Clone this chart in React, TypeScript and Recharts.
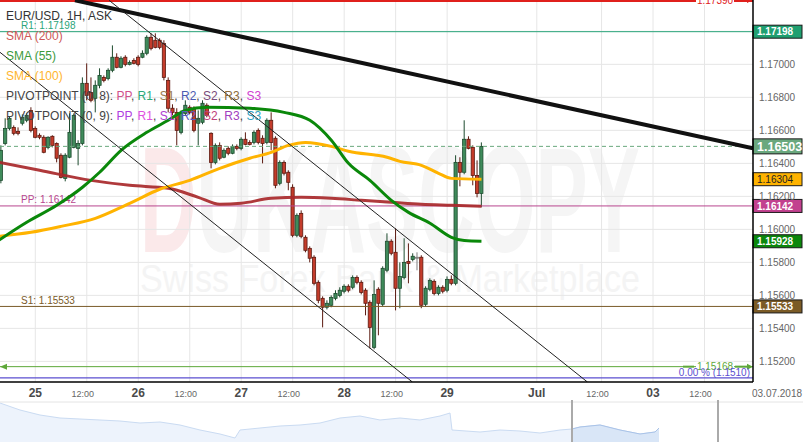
import React from 'react';
import {
  ComposedChart, Bar, Line, XAxis, YAxis, CartesianGrid, ReferenceLine, AreaChart, Area,
} from 'recharts';

const FONT = "Arial, 'Liberation Sans', sans-serif";

// ---- hourly candles (EUR/USD 1H) ----
const candleOpen = [
  1.16297, 1.16521, 1.16612, 1.16618, 1.16594, 1.16643, 1.16661, 1.16721, 1.16612, 1.16570,
  1.16558, 1.16497, 1.16564, 1.16521, 1.16449, 1.16309, 1.16437, 1.16497, 1.16491, 1.16521,
  1.16885, 1.16830, 1.16794, 1.16873, 1.16921, 1.16915, 1.16964, 1.17043, 1.16982, 1.17043,
  1.17000, 1.17024, 1.17043, 1.17043, 1.17067, 1.17164, 1.17146, 1.17146, 1.17127, 1.16903,
  1.16734, 1.16709, 1.16588, 1.16703, 1.16740, 1.16734, 1.16643, 1.16649, 1.16752, 1.16582,
  1.16406, 1.16509, 1.16437, 1.16491, 1.16461, 1.16503, 1.16491, 1.16546, 1.16527, 1.16527,
  1.16600, 1.16552, 1.16527, 1.16661, 1.16552, 1.16279, 1.16406, 1.16346, 1.16255, 1.15964,
  1.16097, 1.15952, 1.15885, 1.15831, 1.15679, 1.15582, 1.15528, 1.15540, 1.15582, 1.15600,
  1.15625, 1.15655, 1.15649, 1.15709, 1.15679, 1.15631, 1.15558, 1.15285, 1.15637, 1.15546,
  1.15752, 1.15928, 1.15861, 1.15643, 1.15709, 1.15806, 1.15818, 1.15831, 1.15831, 1.15546,
  1.15637, 1.15685, 1.15612, 1.15649, 1.15631, 1.15697, 1.15673, 1.16406, 1.16346, 1.16546,
  1.16497, 1.16327, 1.16218,
];
const candleHigh = [
  1.16509, 1.16673, 1.16685, 1.16630, 1.16618, 1.16697, 1.16703, 1.16740, 1.16624, 1.16582,
  1.16570, 1.16564, 1.16570, 1.16527, 1.16461, 1.16461, 1.16703, 1.16703, 1.16540, 1.16921,
  1.17006, 1.16921, 1.16903, 1.16976, 1.16933, 1.16976, 1.17115, 1.17067, 1.17049, 1.17055,
  1.17024, 1.17037, 1.17055, 1.17085, 1.17176, 1.17188, 1.17188, 1.17158, 1.17146, 1.16921,
  1.16758, 1.16734, 1.16721, 1.16782, 1.16752, 1.16746, 1.16721, 1.16782, 1.16764, 1.16588,
  1.16521, 1.16527, 1.16491, 1.16503, 1.16515, 1.16515, 1.16558, 1.16588, 1.16540, 1.16600,
  1.16612, 1.16570, 1.16673, 1.16709, 1.16564, 1.16418, 1.16418, 1.16358, 1.16273, 1.16097,
  1.16115, 1.15964, 1.15897, 1.15843, 1.15691, 1.15594, 1.15570, 1.15600, 1.15631, 1.15649,
  1.15667, 1.15667, 1.15721, 1.15721, 1.15691, 1.15643, 1.15570, 1.15691, 1.15649, 1.15776,
  1.15976, 1.15940, 1.16006, 1.15800, 1.15946, 1.15915, 1.15855, 1.15861, 1.15843, 1.15655,
  1.15703, 1.15697, 1.15661, 1.15661, 1.15715, 1.15721, 1.16449, 1.16437, 1.16661, 1.16564,
  1.16509, 1.16418, 1.16527,
];
const candleLow = [
  1.16279, 1.16509, 1.16600, 1.16570, 1.16570, 1.16630, 1.16649, 1.16588, 1.16552, 1.16546,
  1.16461, 1.16485, 1.16497, 1.16406, 1.16309, 1.16291, 1.16431, 1.16491, 1.16388, 1.16509,
  1.16782, 1.16770, 1.16709, 1.16855, 1.16891, 1.16903, 1.16952, 1.16976, 1.16976, 1.16988,
  1.16994, 1.17000, 1.16988, 1.17037, 1.17055, 1.17085, 1.17097, 1.17091, 1.16903, 1.16709,
  1.16691, 1.16509, 1.16576, 1.16691, 1.16697, 1.16588, 1.16509, 1.16637, 1.16679, 1.16370,
  1.16394, 1.16418, 1.16431, 1.16449, 1.16455, 1.16479, 1.16479, 1.16509, 1.16509, 1.16515,
  1.16515, 1.16400, 1.16515, 1.16479, 1.16249, 1.16267, 1.16327, 1.16237, 1.15952, 1.15952,
  1.15946, 1.15861, 1.15800, 1.15661, 1.15552, 1.15406, 1.15515, 1.15528, 1.15570, 1.15588,
  1.15612, 1.15618, 1.15637, 1.15667, 1.15606, 1.15479, 1.15279, 1.15273, 1.15358, 1.15534,
  1.15740, 1.15843, 1.15509, 1.15522, 1.15697, 1.15673, 1.15806, 1.15752, 1.15522, 1.15534,
  1.15625, 1.15600, 1.15600, 1.15612, 1.15618, 1.15661, 1.15661, 1.16261, 1.16334, 1.16485,
  1.16267, 1.16194, 1.16134,
];
const candleClose = [
  1.16479, 1.16612, 1.16673, 1.16582, 1.16582, 1.16679, 1.16691, 1.16600, 1.16558, 1.16558,
  1.16467, 1.16558, 1.16509, 1.16431, 1.16315, 1.16449, 1.16588, 1.16691, 1.16521, 1.16885,
  1.16812, 1.16782, 1.16873, 1.16933, 1.16903, 1.16964, 1.17043, 1.16982, 1.17037, 1.17000,
  1.17012, 1.17006, 1.17000, 1.17067, 1.17164, 1.17097, 1.17103, 1.17103, 1.16921, 1.16734,
  1.16709, 1.16600, 1.16703, 1.16752, 1.16709, 1.16600, 1.16673, 1.16764, 1.16691, 1.16406,
  1.16509, 1.16431, 1.16479, 1.16461, 1.16503, 1.16491, 1.16546, 1.16515, 1.16515, 1.16588,
  1.16527, 1.16521, 1.16661, 1.16527, 1.16267, 1.16406, 1.16340, 1.16285, 1.15964, 1.16085,
  1.15958, 1.15873, 1.15825, 1.15673, 1.15570, 1.15528, 1.15552, 1.15588, 1.15612, 1.15631,
  1.15655, 1.15631, 1.15709, 1.15679, 1.15618, 1.15552, 1.15406, 1.15606, 1.15552, 1.15764,
  1.15928, 1.15855, 1.15643, 1.15715, 1.15800, 1.15794, 1.15837, 1.15831, 1.15540, 1.15643,
  1.15691, 1.15612, 1.15649, 1.15625, 1.15697, 1.15673, 1.16406, 1.16346, 1.16546, 1.16491,
  1.16327, 1.16218, 1.16503,
];

// ---- moving averages (sampled along the hour index) ----
const sma200X = [-0.5, 9, 21, 30, 39, 46, 51, 56, 63, 70, 77, 84, 91, 98, 105, 112];
const sma200V = [1.16406, 1.16358, 1.16297, 1.16267, 1.16249, 1.16194, 1.16152, 1.16158, 1.16188, 1.16194, 1.16188, 1.16176, 1.16164, 1.16152, 1.16146, 1.16140];
const sma55X = [-0.5, 6, 13, 19, 23, 28, 34, 39, 43, 48, 58, 66, 72, 77, 81, 86, 91, 95, 100, 105, 108, 112];
const sma55V = [1.15934, 1.16043, 1.16146, 1.16255, 1.16346, 1.16479, 1.16588, 1.16661, 1.16721, 1.16740, 1.16734, 1.16709, 1.16661, 1.16540, 1.16400, 1.16297, 1.16176, 1.16103, 1.16037, 1.15952, 1.15932, 1.15928];
const sma100X = [-0.5, 7, 14, 22, 30, 37, 44, 51, 58, 63, 67, 71, 77, 81, 90, 93, 98, 102, 105, 112];
const sma100V = [1.15958, 1.15982, 1.16018, 1.16067, 1.16158, 1.16243, 1.16297, 1.16370, 1.16431, 1.16467, 1.16509, 1.16527, 1.16503, 1.16473, 1.16437, 1.16412, 1.16388, 1.16340, 1.16309, 1.16304];

// ---- levels ----
const levelR1 = 1.17198;
const levelPP = 1.16142;
const levelS1 = 1.15533;
const levelTop = 1.1739;
const levelGreen = 1.15168;
const levelFib0 = 1.1510;
const lastPrice = 1.16503;

// ---- trend lines [x1, y1, x2, y2] in hour index / price ----
const trendMain = [17.25, 1.17388, 175.3, 1.16491];
const channelUpper = [25.2, 1.17388, 136.7, 1.15075];
const channelLower = [-0.23, 1.17073, 95.9, 1.15075];

// ---- axes ----
const xTickValues = [8, 20, 32, 44, 56, 68, 80, 92, 104, 124.9, 140, 152, 164, 175.3];
const xTickLabels = ['25', '12:00', '26', '12:00', '27', '12:00', '28', '12:00', '29', 'Jul', '12:00', '03', '12:00', '03.07.2018'];
const yTicks = [1.152, 1.154, 1.156, 1.158, 1.16, 1.162, 1.164, 1.166, 1.168, 1.17];
const yGrid = [1.152, 1.154, 1.156, 1.158, 1.16, 1.162, 1.164, 1.166, 1.168, 1.17, 1.172];

// ---- navigator ----
const navT = [0, 1, 2, 3, 4, 5, 6, 7, 8, 9, 10, 11, 11.75, 12, 13, 14, 15, 16, 17, 18, 19, 20, 21, 22, 22.5, 22.6, 24, 25, 26, 27, 28, 28.6, 29, 30, 31, 32, 32.75, 32.95];
const navV = [39, 32, 27, 24, 23, 22, 21, 19, 20, 17, 12, 8, 4, 12, 14, 16, 17, 19, 24, 26, 22, 24, 22, 26, 29, 12, 10, 12, 11, 9, 12, 13, 15, 17, 12, 8, 10, 14];
const navSelStart = 28.6;
const navSelEnd = 35.9;

const candles = candleOpen.map((open, i) => ({
  i,
  open,
  high: candleHigh[i],
  low: candleLow[i],
  close: candleClose[i],
  range: [candleLow[i], candleHigh[i]],
}));
const sma200Data = sma200X.map((i, k) => ({ i, v: sma200V[k] }));
const sma55Data = sma55X.map((i, k) => ({ i, v: sma55V[k] }));
const sma100Data = sma100X.map((i, k) => ({ i, v: sma100V[k] }));
const navData = navT.map((t, k) => ({ t, v: navV[k], sel: t >= navSelStart ? navV[k] : null }));

const Candle = (props: any) => {
  const { x, y, width, height, payload } = props;
  if (!payload || x == null) return null;
  const { open, close, high, low } = payload;
  const top = Math.min(y, y + height);
  const h = Math.abs(height);
  const k = high - low > 0 ? h / (high - low) : 0;
  const yO = top + (high - open) * k;
  const yC = top + (high - close) * k;
  const cx = x + width / 2;
  const flat = close === open;
  const up = close > open;
  const body = flat ? '#9a9a9a' : up ? '#3f8b5b' : '#c43c2b';
  const edge = flat ? '#808080' : up ? '#1d4b2e' : '#5c1a10';
  const bw = 3.2;
  const bt = Math.min(yO, yC);
  const bh = Math.max(Math.abs(yC - yO), 1);
  return (
    <g>
      <line x1={cx} x2={cx} y1={top} y2={top + h} stroke={edge} strokeWidth={1} />
      <rect x={cx - bw / 2} y={bt} width={bw} height={bh} fill={body} stroke={edge} strokeWidth={0.8} />
    </g>
  );
};

const Tag = ({ right, y, value, fill, color, big, bold }: any) => {
  const h = big ? 15 : 13;
  return (
    <g>
      <rect x={right} y={y - h / 2} width={49} height={h} fill={fill} stroke="#1a1a1a" strokeWidth={1} />
      <text x={right + 4} y={y + (big ? 4.5 : 3.6)} fill={color} fontSize={big ? 12.5 : 10} fontWeight={bold ? 'bold' : 'normal'} fontFamily={FONT}>
        {value}
      </text>
    </g>
  );
};

const LevelLabel = (props: any) => {
  const { viewBox, text, color, value, tagFill, tagColor, big, bold } = props;
  if (!viewBox) return null;
  const y = viewBox.y;
  const right = viewBox.x + viewBox.width;
  return (
    <g>
      {text ? (
        <text x={viewBox.x + 21} y={y - 2.5} fill={color} fontSize={10} fontFamily={FONT}>{text}</text>
      ) : null}
      {value ? <Tag right={right} y={y} value={value} fill={tagFill} color={tagColor} big={big} bold={bold} /> : null}
    </g>
  );
};

const ArrowLabel = (props: any) => {
  const { viewBox, text, color, leftArrow } = props;
  if (!viewBox) return null;
  const y = viewBox.y;
  const right = viewBox.x + viewBox.width;
  const cx = right - 38;
  return (
    <g>
      <rect x={cx - 19} y={y - 5} width={38} height={10} fill="#fff" />
      <line x1={cx - 32} x2={cx - 21} y1={y} y2={y} stroke={color} strokeWidth={2} />
      <line x1={cx + 20} x2={right - 5} y1={y} y2={y} stroke={color} strokeWidth={2} />
      <polygon points={`${right - 6},${y - 3} ${right},${y} ${right - 6},${y + 3}`} fill={color} />
      {leftArrow ? <polygon points={`${viewBox.x},${y} ${viewBox.x + 7},${y - 3} ${viewBox.x + 7},${y + 3}`} fill={color} /> : null}
      <text x={cx} y={y + 3.5} textAnchor="middle" fill={color} fontSize={10} fontFamily={FONT}>{text}</text>
    </g>
  );
};

const FibLabel = (props: any) => {
  const { viewBox, text, color } = props;
  if (!viewBox) return null;
  const right = viewBox.x + viewBox.width;
  return (
    <text x={right - 3} y={viewBox.y - 2} textAnchor="end" fill={color} fontSize={10} fontFamily={FONT}>{text}</text>
  );
};

const XTick = (props: any) => {
  const { x, y, payload } = props;
  const k = xTickValues.indexOf(payload.value);
  const label = k >= 0 ? xTickLabels[k] : '';
  const isTime = label === '12:00';
  const isEnd = label.length > 5;
  return (
    <text
      x={isTime ? x - 4 : isEnd ? x - 1 : x}
      y={y + 15}
      textAnchor={isEnd ? 'start' : 'middle'}
      fontSize={isTime ? 9 : isEnd ? 10 : 12}
      fontWeight={isTime || isEnd ? 'normal' : 'bold'}
      fill={isTime || isEnd ? '#666' : '#4a4a4a'}
      fontFamily={FONT}
    >
      {label}
    </text>
  );
};

export default function App() {
  const fmt = (v: number) => v.toFixed(5);
  return (
    <div style={{ position: 'absolute', left: 0, top: 0, width: 803, height: 442, background: '#fff', overflow: 'hidden', fontFamily: FONT }}>
      {/* watermark */}
      <svg width={803} height={442} style={{ position: 'absolute', left: 0, top: 0 }}>
        <text x={140} y={252} fontSize={150} fontWeight="bold" fontFamily={FONT} textLength={500} lengthAdjust="spacingAndGlyphs" fill="#f5f5f5">
          <tspan fill="#fbe9ea">D</tspan>UKASCOPY
        </text>
        <text x={140} y={292} fontSize={38} fontFamily={FONT} textLength={500} lengthAdjust="spacingAndGlyphs" fill="#f4f4f4">
          Swiss Forex Bank &amp; Marketplace
        </text>
      </svg>

      <div style={{ position: 'absolute', left: 0, top: 0 }}>
        <ComposedChart width={803} height={400} data={candles} margin={{ top: 0, right: 0, bottom: 0, left: 0 }}>
          <CartesianGrid stroke="#e6e6e6" horizontalValues={yGrid} verticalValues={xTickValues.slice(0, -1)} />
          <XAxis
            type="number"
            dataKey="i"
            domain={[-0.23, 175.3]}
            allowDataOverflow
            ticks={xTickValues}
            interval={0}
            tick={<XTick />}
            tickLine={false}
            tickSize={0}
            tickMargin={0}
            height={18}
            axisLine={{ stroke: '#000', strokeWidth: 1.5 }}
          />
          <YAxis
            orientation="right"
            type="number"
            domain={[1.15075, 1.1739]}
            allowDataOverflow
            ticks={yTicks}
            interval={0}
            tickFormatter={fmt}
            tick={{ fill: '#666', fontSize: 10, fontFamily: FONT }}
            tickLine={false}
            tickSize={4}
            tickMargin={2}
            width={50}
            axisLine={{ stroke: '#000', strokeWidth: 1.5 }}
          />
          <Bar dataKey="range" barSize={4} isAnimationActive={false} shape={(p: any) => <Candle {...p} />} />

          <ReferenceLine y={levelTop} stroke="#e0201c" strokeWidth={4} ifOverflow="visible"
            label={<ArrowLabel text="1.17390" color="#e0201c" />} />
          <ReferenceLine y={levelR1} stroke="#2aa57a" strokeWidth={1}
            label={<LevelLabel text={`R1: ${levelR1}`} color="#2aa57a" value={fmt(levelR1)} tagFill="#1f9f70" tagColor="#fff" bold />} />
          <ReferenceLine y={levelPP} stroke="#b8468f" strokeWidth={1}
            label={<LevelLabel text={`PP: ${levelPP}`} color="#b8468f" value={fmt(levelPP)} tagFill="#c2418f" tagColor="#fff" bold />} />
          <ReferenceLine y={levelS1} stroke="#7a5a28" strokeWidth={1}
            label={<LevelLabel text={`S1: ${levelS1}`} color="#7a5a28" value={fmt(levelS1)} tagFill="#7b5b26" tagColor="#fff" bold />} />
          <ReferenceLine y={levelGreen} stroke="#5ea83a" strokeWidth={1}
            label={<ArrowLabel text={fmt(levelGreen)} color="#5ea83a" leftArrow />} />
          <ReferenceLine y={levelFib0} stroke="#5b4fd0" strokeWidth={1.2}
            label={<FibLabel text={`0.00 % (${levelFib0.toFixed(4)})`} color="#5b4fd0" />} />
          <ReferenceLine y={lastPrice} stroke="#6aa87e" strokeDasharray="4 3" strokeWidth={1}
            label={<LevelLabel value={fmt(lastPrice)} tagFill="#6aa87e" tagColor="#fff" big bold />} />

          <Line data={sma200Data} dataKey="v" type="monotone" stroke="#a8282a" strokeWidth={3} strokeOpacity={0.92} dot={false} activeDot={false} isAnimationActive={false} />
          <Line data={sma100Data} dataKey="v" type="monotone" stroke="#ffb300" strokeWidth={3} dot={false} activeDot={false} isAnimationActive={false} />
          <Line data={sma55Data} dataKey="v" type="monotone" stroke="#0a880a" strokeWidth={3} dot={false} activeDot={false} isAnimationActive={false} />

          <ReferenceLine segment={[{ x: trendMain[0], y: trendMain[1] }, { x: trendMain[2], y: trendMain[3] }]} stroke="#111" strokeWidth={4} ifOverflow="hidden" />
          <ReferenceLine segment={[{ x: channelUpper[0], y: channelUpper[1] }, { x: channelUpper[2], y: channelUpper[3] }]} stroke="#222" strokeWidth={1} ifOverflow="hidden" />
          <ReferenceLine segment={[{ x: channelLower[0], y: channelLower[1] }, { x: channelLower[2], y: channelLower[3] }]} stroke="#222" strokeWidth={1} ifOverflow="hidden" />

          <ReferenceLine y={sma100V[sma100V.length - 1]} stroke="none"
            label={<LevelLabel value={fmt(sma100V[sma100V.length - 1])} tagFill="#ffb300" tagColor="#222" />} />
          <ReferenceLine y={sma55V[sma55V.length - 1]} stroke="none"
            label={<LevelLabel value={fmt(sma55V[sma55V.length - 1])} tagFill="#0b870b" tagColor="#fff" bold />} />
        </ComposedChart>
      </div>

      <div style={{ position: 'absolute', left: 0, top: 400 }}>
        <AreaChart width={803} height={42} data={navData} margin={{ top: 0, right: 0, bottom: 0, left: 0 }}>
          <XAxis type="number" dataKey="t" domain={[0, 40.15]} hide allowDataOverflow />
          <YAxis type="number" domain={[0, 42]} hide allowDataOverflow />
          <ReferenceLine y={40} stroke="#e4e4e4" />
          <Area dataKey="v" type="linear" stroke="#cadbf2" strokeWidth={1} fill="#edf3fc" fillOpacity={1} dot={false} activeDot={false} isAnimationActive={false} />
          <Area dataKey="sel" type="linear" stroke="#a9c3e8" strokeWidth={1} fill="#d9e6f7" fillOpacity={1} dot={false} activeDot={false} isAnimationActive={false} />
          <ReferenceLine x={navSelStart} stroke="#aaa" strokeWidth={2} />
          <ReferenceLine x={navSelEnd} stroke="#aaa" strokeWidth={2} />
        </AreaChart>
      </div>

      {/* legend */}
      <svg width={803} height={442} style={{ position: 'absolute', left: 0, top: 0, pointerEvents: 'none' }}>
        <g fontFamily={FONT} fontSize={12}>
          <text x={6} y={20} fill="#333">EUR/USD, 1H, ASK</text>
          <text x={6} y={40} fill="#cc5858">SMA (200)</text>
          <text x={6} y={60} fill="#3c9a3c">SMA (55)</text>
          <text x={6} y={80} fill="#ffb52e">SMA (100)</text>
          <text x={6} y={100}>
            <tspan fill="#444">PIVOTPOINT (0, 8): </tspan>
            <tspan fill="#d0508c">PP</tspan><tspan fill="#444">, </tspan>
            <tspan fill="#2aa87a">R1</tspan><tspan fill="#444">, </tspan>
            <tspan fill="#9a7a4a">S1</tspan><tspan fill="#444">, </tspan>
            <tspan fill="#4a5ab0">R2</tspan><tspan fill="#444">, </tspan>
            <tspan fill="#7a4a7a">S2</tspan><tspan fill="#444">, </tspan>
            <tspan fill="#8a6a3a">R3</tspan><tspan fill="#444">, </tspan>
            <tspan fill="#d040d0">S3</tspan>
          </text>
          <text x={6} y={120}>
            <tspan fill="#444">PIVOTPOINT (0, 9): </tspan>
            <tspan fill="#b040e0">PP</tspan><tspan fill="#444">, </tspan>
            <tspan fill="#e050e0">R1</tspan><tspan fill="#444">, </tspan>
            <tspan fill="#b040d0">S1</tspan><tspan fill="#444">, </tspan>
            <tspan fill="#5a5ac0">R2</tspan><tspan fill="#444">, </tspan>
            <tspan fill="#c0407a">S2</tspan><tspan fill="#444">, </tspan>
            <tspan fill="#a040c0">R3</tspan><tspan fill="#444">, </tspan>
            <tspan fill="#30a0c0">S3</tspan>
          </text>
        </g>
      </svg>
    </div>
  );
}
